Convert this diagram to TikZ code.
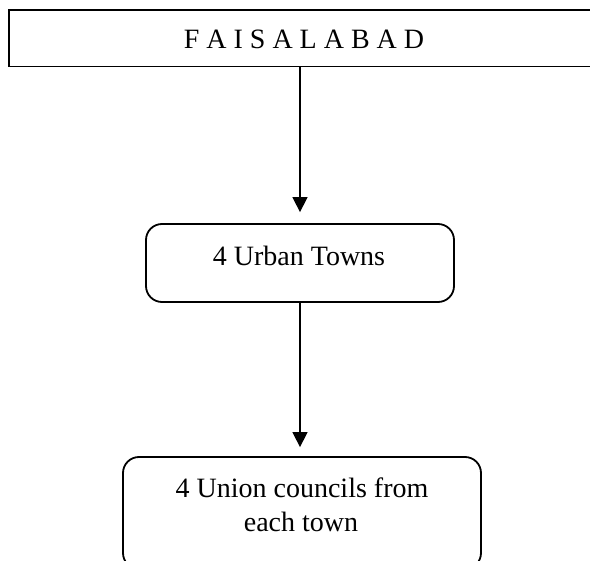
\documentclass[tikz,border=0pt]{standalone}
\usepackage{fontspec}
\setmainfont{Liberation Serif}
\usetikzlibrary{arrows.meta}
\begin{document}
\begin{tikzpicture}[x=1pt,y=-1pt,
  boxline/.style={draw=black, line width=1.8pt, inner sep=0pt},
  sqbox/.style={boxline},
  rbox/.style={boxline, rounded corners=16pt},
  lbl/.style={inner sep=0pt, anchor=base, font=\fontsize{28}{34}\selectfont},
  arr/.style={-{Triangle[width=15pt,length=15pt]}, line width=1.5pt}]
\useasboundingbox (0,0) rectangle (590,561);
\clip (0,0) rectangle (590,561);
\node[sqbox, minimum width=592pt, minimum height=56.5pt] (fsd) at (305,38.25) {};
\node[lbl] (fsdt) at (304,48.5) {F A I S A L A B A D};
\node[rbox, minimum width=308pt, minimum height=78pt] (ut) at (300,263) {};
\node[lbl] (utt) at (299,266) {4 Urban Towns};
\node[rbox, minimum width=358pt, minimum height=112pt] (uc) at (302,513) {};
\node[lbl] (uct1) at (302,498) {4 Union councils from};
\node[lbl] (uct2) at (301,532) {each town};
\draw[arr, shorten >=11pt] (fsd.south -| ut.north) -- (ut.north);
\draw[arr, shorten >=9pt] (ut.south) -- (uc.north -| ut.south);
\end{tikzpicture}
\end{document}
